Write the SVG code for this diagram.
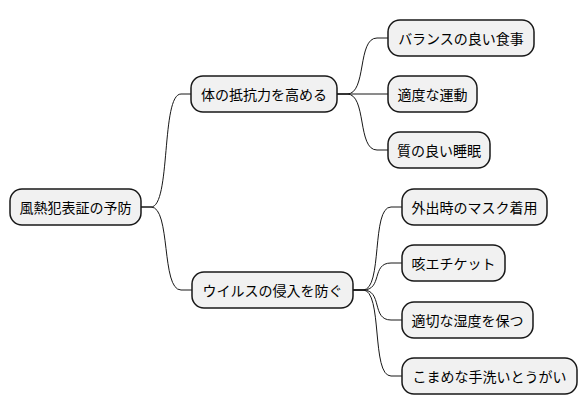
<svg xmlns="http://www.w3.org/2000/svg" width="586" height="415" viewBox="0 0 586 415">
<style>
.n rect{fill:#F1F1F1;stroke:#181818;stroke-width:1.5}
.n text{font-family:"Noto Sans CJK JP","Liberation Sans",sans-serif;font-size:14px;fill:#000;text-anchor:middle;dominant-baseline:central}
.c path{fill:none;stroke:#181818;stroke-width:1}
</style>
<rect width="586" height="415" fill="#fff"/>
<g class="c">
<path d="M141,207 L151,207 C171,207 161,94 181,94 L191,94"/>
<path d="M141,207 L151,207 C171,207 161,290 181,290 L192,290"/>
<path d="M337,94 L347,94 C367,94 357,38 377,38 L388,38"/>
<path d="M337,94 L388,94"/>
<path d="M337,94 L347,94 C367,94 357,150 377,150 L388,150"/>
<path d="M353,290 L363,290 C383,290 371,207 391,207 L402,207"/>
<path d="M353,290 L363,290 C383,290 371,263 391,263 L402,263"/>
<path d="M353,290 L363,290 C383,290 371,320 391,320 L402,320"/>
<path d="M353,290 L363,290 C383,290 371,376 391,376 L402,376"/>
</g>
<g id="root" class="n"><rect x="10" y="189" width="131" height="36" rx="12"/><text x="75.5" y="207">風熱犯表証の予防</text></g>
<g id="n1" class="n"><rect x="191" y="76" width="146" height="36" rx="12"/><text x="264" y="94">体の抵抗力を高める</text></g>
<g id="n11" class="n"><rect x="388" y="20" width="146" height="36" rx="12"/><text x="461" y="38">バランスの良い食事</text></g>
<g id="n12" class="n"><rect x="388" y="76" width="89" height="36" rx="12"/><text x="432.5" y="94">適度な運動</text></g>
<g id="n13" class="n"><rect x="388" y="132" width="102" height="36" rx="12"/><text x="439" y="150">質の良い睡眠</text></g>
<g id="n2" class="n"><rect x="192" y="272" width="161" height="36" rx="12"/><text x="272.5" y="290">ウイルスの侵入を防ぐ</text></g>
<g id="n21" class="n"><rect x="402" y="189" width="145" height="36" rx="12"/><text x="474.5" y="207">外出時のマスク着用</text></g>
<g id="n22" class="n"><rect x="402" y="245" width="103" height="36" rx="12"/><text x="453.5" y="263">咳エチケット</text></g>
<g id="n23" class="n"><rect x="402" y="302" width="131" height="36" rx="12"/><text x="467.5" y="320">適切な湿度を保つ</text></g>
<g id="n24" class="n"><rect x="402" y="358" width="175" height="36" rx="12"/><text x="489.5" y="376">こまめな手洗いとうがい</text></g>
</svg>
